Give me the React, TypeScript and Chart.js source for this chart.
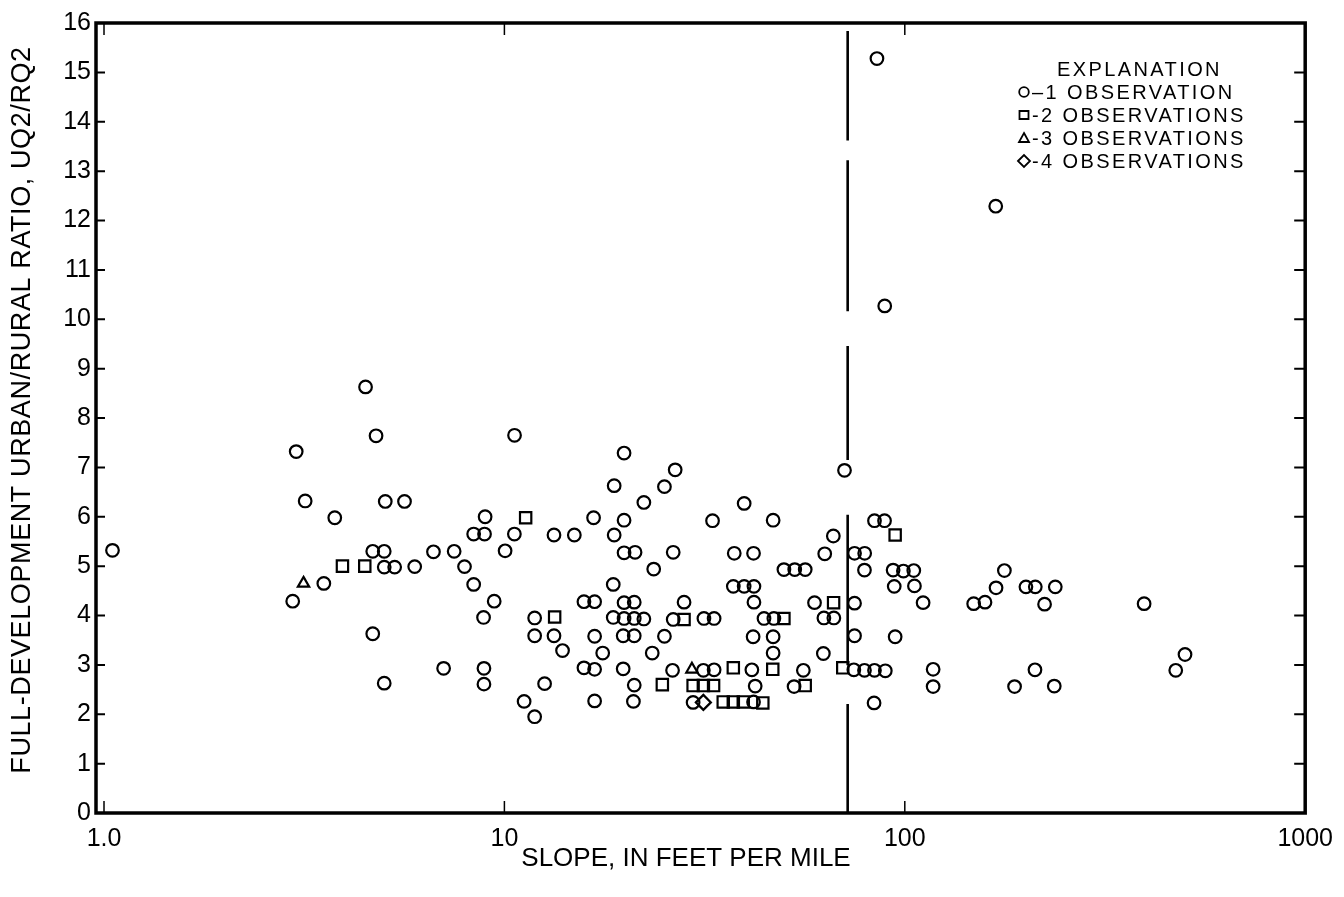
import React, { useEffect, useRef } from "react";
import { Chart, registerables } from "chart.js";

Chart.register(...registerables);

// ---- data (slope in ft/mi, urban/rural ratio) ----
const circleSlope = [
  1.05, 3.02, 4.78, 4.5, 3.18, 5.04, 5.63, 3.77, 4.69, 5.01, 6.65, 5.01, 5.32, 5.97, 3.54, 2.96, 4.69, 5.01, 7.05,
  10.6, 19.9, 26.7, 18.8, 25.1, 22.3, 39.7, 8.95, 16.7, 19.9, 33.1, 46.9, 84.0, 89.0,
  8.38, 8.92, 10.59, 13.3, 14.95, 18.8, 66.3, 7.49, 10.04, 19.9, 21.2, 26.4, 37.5, 41.9, 63.1, 74.9, 79.4,
  7.95, 23.6, 49.9, 53.1, 56.4, 79.3, 8.38, 18.7, 37.3, 39.7, 42.0,
  9.43, 15.8, 16.8, 19.9, 21.1, 28.1, 42.0, 59.5, 74.9,
  8.87, 11.9, 18.7, 19.9, 21.1, 22.3, 26.4, 31.5, 33.4, 44.5, 47.1, 62.8, 66.5,
  11.9, 13.3, 16.8, 19.8, 21.1, 25.1, 41.8, 46.9, 74.9,
  13.97, 17.6, 23.4, 46.9, 62.6,
  8.89, 15.8, 16.8, 19.8, 26.3, 31.4, 33.4, 41.5, 55.8, 74.6, 79.3, 84.0, 89.4,
  8.89, 12.6, 21.1, 42.3, 52.9, 11.2, 16.8, 21.0, 29.6, 41.9, 11.9, 83.8,
  70.7, 93.5, 99.2, 105.3, 94.1, 105.7, 111.1, 148.6, 158.6, 169, 177.3, 200.7, 211.8, 237.6, 223.4, 396,
  94.6, 117.7, 117.7, 188, 211.4, 236.2, 475, 501,
  85.2, 168.7, 89.1,
];
const circleRatio = [
  5.32, 7.32, 7.64, 8.63, 6.32, 6.31, 6.31, 5.98, 5.3, 5.3, 5.29, 4.98, 4.98, 4.99, 4.65, 4.29, 3.63, 2.63, 2.93,
  7.65, 7.29, 6.95, 6.63, 6.61, 6.29, 6.27, 6.0, 5.98, 5.93, 5.92, 5.93, 5.92, 5.92,
  5.65, 5.65, 5.65, 5.63, 5.63, 5.63, 5.61, 5.3, 5.31, 5.27, 5.28, 5.28, 5.26, 5.26, 5.25, 5.26, 5.26,
  4.99, 4.94, 4.93, 4.93, 4.93, 4.92, 4.63, 4.63, 4.59, 4.59, 4.59,
  4.29, 4.28, 4.28, 4.26, 4.27, 4.27, 4.27, 4.26, 4.25,
  3.96, 3.95, 3.96, 3.94, 3.94, 3.93, 3.92, 3.94, 3.94, 3.94, 3.94, 3.95, 3.95,
  3.59, 3.59, 3.58, 3.59, 3.59, 3.58, 3.57, 3.57, 3.59,
  3.29, 3.24, 3.24, 3.24, 3.23,
  2.93, 2.94, 2.91, 2.92, 2.89, 2.89, 2.9, 2.9, 2.89, 2.9, 2.89, 2.89, 2.88,
  2.61, 2.62, 2.59, 2.57, 2.56, 2.26, 2.27, 2.26, 2.24, 2.25, 1.95, 2.23,
  6.94, 4.92, 4.9, 4.91, 4.59, 4.6, 4.26, 4.24, 4.27, 4.56, 4.91, 4.58, 4.58, 4.58, 4.23, 4.24,
  3.57, 2.91, 2.56, 2.56, 2.9, 2.57, 2.89, 3.21,
  15.28, 12.29, 10.27,
];
const squareSlope = [3.94, 4.48, 11.3, 13.35, 28.1, 49.9, 66.4, 37.3, 46.8, 70.0, 24.8, 29.6, 31.4, 33.3, 56.4, 35.2, 37.3, 39.5, 44.2, 94.6];
const squareRatio = [5.0, 5.0, 5.98, 3.97, 3.92, 3.94, 4.26, 2.94, 2.91, 2.94, 2.6, 2.58, 2.58, 2.58, 2.58, 2.25, 2.25, 2.25, 2.23, 5.63];
const triangleSlope = [3.15, 29.4];
const triangleRatio = [4.65, 2.91];
const diamondSlope = [31.4];
const diamondRatio = [2.24];

// broken vertical divider line
const dividerSlope = 72;
const dividerSegments = [
  [0, 2.21],
  [2.99, 6.04],
  [7.15, 9.46],
  [10.16, 13.22],
  [13.62, 15.84],
];

const xTickValues = [1, 10, 100, 1000];
const xTickLabels = ["1.0", "10", "100", "1000"];
const innerXTicks = [1, 10, 100];

const xTitle = "SLOPE, IN FEET PER MILE";
const yTitle = "FULL-DEVELOPMENT URBAN/RURAL RATIO, UQ2/RQ2";
const legendTitle = "EXPLANATION";
const legendLabels = ["\u20131 OBSERVATION", "-2 OBSERVATIONS", "-3 OBSERVATIONS", "-4 OBSERVATIONS"];
const legendShapes = ["circle", "rect", "triangle", "rectRot"];

const FONT = '"Liberation Sans", Arial, Helvetica, sans-serif';

const framePlugin = {
  id: "frame",
  afterDatasetsDraw(chart: any) {
    const { ctx, chartArea } = chart;
    const { left, right, top, bottom } = chartArea;
    const xs = chart.scales.x;
    const ys = chart.scales.y;
    ctx.save();
    ctx.strokeStyle = "#000";
    ctx.fillStyle = "#000";
    ctx.lineWidth = 3.5;
    ctx.strokeRect(left, top, right - left, bottom - top);

    ctx.lineWidth = 2;
    ctx.beginPath();
    for (let v = 1; v < 16; v++) {
      const py = ys.getPixelForValue(v);
      ctx.moveTo(left, py);
      ctx.lineTo(left + 9, py);
      ctx.moveTo(right, py);
      ctx.lineTo(right - 11, py);
    }
    ctx.stroke();

    ctx.lineWidth = 1.5;
    ctx.beginPath();
    for (const v of innerXTicks) {
      const px = xs.getPixelForValue(v);
      ctx.moveTo(px, top);
      ctx.lineTo(px, top + 12);
      ctx.moveTo(px, bottom);
      ctx.lineTo(px, bottom - 12);
    }
    ctx.stroke();

    // axis titles
    ctx.textAlign = "center";
    ctx.textBaseline = "middle";
    ctx.font = `26px ${FONT}`;
    ctx.fillText(xTitle, 686, 859);

    ctx.save();
    ctx.translate(23, 410);
    ctx.rotate(-Math.PI / 2);
    ctx.font = `27px ${FONT}`;
    (ctx as any).letterSpacing = "0.6px";
    ctx.fillText(yTitle, 0, 0);
    ctx.restore();

    // legend (explanation)
    ctx.font = `20px ${FONT}`;
    (ctx as any).letterSpacing = "2.4px";
    ctx.textAlign = "left";
    ctx.fillText(legendTitle, 1057, 70);
    const rowY = [92, 115, 138, 161];
    ctx.lineWidth = 1.8;
    legendShapes.forEach((shape, i) => {
      const cy = rowY[i];
      const cx = 1024;
      ctx.beginPath();
      if (shape === "circle") {
        ctx.arc(cx, cy, 4.8, 0, Math.PI * 2);
      } else if (shape === "rect") {
        ctx.rect(cx - 4.5, cy - 4, 9, 8);
      } else if (shape === "triangle") {
        ctx.moveTo(cx, cy - 5);
        ctx.lineTo(cx + 5, cy + 4);
        ctx.lineTo(cx - 5, cy + 4);
        ctx.closePath();
      } else {
        ctx.moveTo(cx - 6, cy);
        ctx.lineTo(cx, cy - 6);
        ctx.lineTo(cx + 6, cy);
        ctx.lineTo(cx, cy + 6);
        ctx.closePath();
      }
      ctx.stroke();
      ctx.fillText(legendLabels[i], 1032, cy + 1);
    });
    ctx.restore();
  },
};

function toPoints(xs: number[], ys: number[]) {
  return xs.map((x, i) => ({ x, y: ys[i] }));
}

export default function App() {
  const ref = useRef<HTMLCanvasElement | null>(null);

  useEffect(() => {
    if (!ref.current) return;
    const markerBase = {
      type: "scatter" as const,
      borderColor: "#000",
      backgroundColor: "rgba(0,0,0,0)",
      borderWidth: 2.2,
      showLine: false,
    };
    const dividerSets = dividerSegments.map((seg) => ({
      type: "scatter" as const,
      data: [
        { x: dividerSlope, y: seg[0] },
        { x: dividerSlope, y: seg[1] },
      ],
      showLine: true,
      borderColor: "#000",
      borderWidth: 2.6,
      pointRadius: 0,
      fill: false,
    }));
    const chart = new Chart(ref.current, {
      type: "scatter",
      data: {
        datasets: [
          ...dividerSets,
          { ...markerBase, data: toPoints(circleSlope, circleRatio), pointStyle: "circle", pointRadius: 6.3 },
          { ...markerBase, data: toPoints(squareSlope, squareRatio), pointStyle: "rect", pointRadius: 8 },
          { ...markerBase, data: toPoints(triangleSlope, triangleRatio), pointStyle: "triangle", pointRadius: 6.5 },
          { ...markerBase, data: toPoints(diamondSlope, diamondRatio), pointStyle: "rectRot", pointRadius: 7.5 },
        ] as any,
      },
      options: {
        responsive: false,
        animation: false,
        devicePixelRatio: 1,
        events: [],
        layout: { padding: { left: 0, top: 23, right: 38, bottom: 0 } },
        plugins: { legend: { display: false }, tooltip: { enabled: false } },
        scales: {
          x: {
            type: "logarithmic",
            min: 0.955,
            max: 1000,
            grid: { display: false, drawTicks: false },
            border: { display: false },
            afterFit: (s: any) => {
              s.height = 84;
            },
            afterBuildTicks: (s: any) => {
              s.ticks = xTickValues.map((v) => ({ value: v }));
            },
            ticks: {
              autoSkip: false,
              maxRotation: 0,
              padding: 11,
              color: "#000",
              font: { family: FONT, size: 25 },
              callback: (v: any) => {
                const i = xTickValues.indexOf(Number(v));
                return i >= 0 ? xTickLabels[i] : "";
              },
            },
          },
          y: {
            type: "linear",
            min: 0,
            max: 16,
            grid: { display: false, drawTicks: false },
            border: { display: false },
            afterFit: (s: any) => {
              s.width = 96;
            },
            ticks: {
              stepSize: 1,
              padding: 5,
              color: "#000",
              font: { family: FONT, size: 25 },
            },
          },
        },
      },
      plugins: [framePlugin],
    });
    return () => chart.destroy();
  }, []);

  return (
    <div style={{ position: "fixed", left: 0, top: 0, width: 1344, height: 897, background: "#fff" }}>
      <canvas ref={ref} width={1344} height={897} style={{ display: "block" }} />
    </div>
  );
}
